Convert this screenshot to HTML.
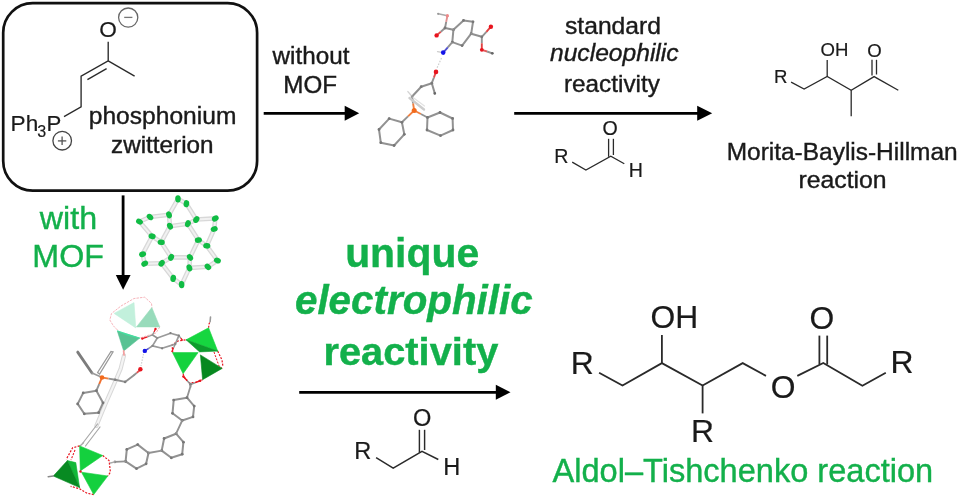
<!DOCTYPE html>
<html><head><meta charset="utf-8"><style>
html,body{margin:0;padding:0;background:#fff;width:958px;height:499px;overflow:hidden}
svg{display:block}
text{font-family:"Liberation Sans",sans-serif}
</style></head><body>
<svg width="958" height="499" viewBox="0 0 958 499" style="will-change:transform;filter:blur(0.3px)">
<rect x="3.2" y="3.2" width="253.9" height="187.4" rx="29.5" ry="29.5" fill="none" stroke="#111" stroke-width="2.7"/>
<line x1="263.7" y1="113.3" x2="345.7" y2="113.3" stroke="#000" stroke-width="2.8"/><polygon points="344.7,105.8 359.2,113.3 344.7,120.8" fill="#000"/>
<line x1="514.2" y1="113.3" x2="698.2" y2="113.3" stroke="#000" stroke-width="2.8"/><polygon points="697.2,105.8 712.2,113.3 697.2,120.8" fill="#000"/>
<line x1="299.2" y1="392.3" x2="496.8" y2="392.3" stroke="#000" stroke-width="2.8"/><polygon points="495.8,384.8 510.5,392.3 495.8,399.8" fill="#000"/>
<line x1="123.1" y1="195.4" x2="123.1" y2="276" stroke="#000" stroke-width="2.8"/>
<polygon points="115.8,274.9 123.1,289.8 130.6,274.9" fill="#000"/>
<g stroke="#2a2a2a" stroke-width="1.35" fill="none" stroke-linecap="butt">
<polyline points="108.2,41.7 108.2,60.9 81.1,76.2 81.1,106.9 64,116.6" />
<line x1="108.2" y1="60.9" x2="134.6" y2="76.1" />
<line x1="87.4" y1="79.7" x2="106.6" y2="68.7" />
</g>
<circle cx="128.2" cy="17.6" r="9.6" fill="none" stroke="#666" stroke-width="1.3"/>
<line x1="124.2" y1="17.4" x2="132.4" y2="17.4" stroke="#777" stroke-width="1.3"/>
<circle cx="62.2" cy="140.7" r="9.3" fill="none" stroke="#444" stroke-width="1.3"/>
<line x1="57.9" y1="140.9" x2="66.3" y2="140.9" stroke="#555" stroke-width="1.3"/>
<line x1="62.1" y1="136.6" x2="62.1" y2="145.1" stroke="#555" stroke-width="1.3"/>
<g stroke="#2a2a2a" stroke-width="1.3" fill="none">
<polyline points="791.1,82.1 804.1,89.1 827.2,76.5 851.2,90.2 874.1,76.6 898.3,90.2" />
<line x1="827.2" y1="76.5" x2="827.2" y2="60.1" />
<line x1="851.2" y1="90.2" x2="851.2" y2="116.2" />
<line x1="872.0" y1="59.8" x2="872.0" y2="75.5" />
<line x1="876.5" y1="59.8" x2="876.5" y2="74.5" />
</g>
<g stroke="#2a2a2a" stroke-width="1.3" fill="none">
<polyline points="572.2,162.1 585.9,170.1 610.8,156.3 624.3,163.7" />
<line x1="608.6" y1="138.8" x2="608.6" y2="156.8" />
<line x1="613.4" y1="138.8" x2="613.4" y2="155.0" />
</g>
<g stroke="#2a2a2a" stroke-width="1.45" fill="none">
<polyline points="376.1,457.7 393.2,468.2 422.0,451.4 438.3,459.5" />
<line x1="419.4" y1="429.8" x2="419.4" y2="452.5" />
<line x1="424.6" y1="429.8" x2="424.6" y2="450.0" />
</g>
<g stroke="#2a2a2a" stroke-width="1.8" fill="none">
<polyline points="599.1,372.7 622.5,385.5 661.9,363.1 702.6,385.5 742.7,363.1 766,375.9" />
<line x1="661.9" y1="363.1" x2="661.9" y2="334.9" />
<line x1="702.6" y1="385.5" x2="702.6" y2="413.4" />
<polyline points="797.3,375.9 823.3,362.9 862.4,385.8 885.8,372.8" />
<line x1="819.4" y1="335.6" x2="819.4" y2="364.5" />
<line x1="827.2" y1="335.6" x2="827.2" y2="364.5" />
</g>
<line x1="453.4" y1="29.8" x2="463.5" y2="20.4" stroke="#929292" stroke-width="2.0" stroke-linecap="round" opacity="1"/>
<line x1="463.5" y1="20.4" x2="473.0" y2="21.8" stroke="#929292" stroke-width="2.0" stroke-linecap="round" opacity="1"/>
<line x1="473.0" y1="21.8" x2="471.2" y2="33.7" stroke="#929292" stroke-width="2.0" stroke-linecap="round" opacity="1"/>
<line x1="471.2" y1="33.7" x2="462.1" y2="45.6" stroke="#929292" stroke-width="2.0" stroke-linecap="round" opacity="1"/>
<line x1="462.1" y1="45.6" x2="452.3" y2="42.1" stroke="#929292" stroke-width="2.0" stroke-linecap="round" opacity="1"/>
<line x1="452.3" y1="42.1" x2="453.4" y2="29.8" stroke="#929292" stroke-width="2.0" stroke-linecap="round" opacity="1"/>
<circle cx="453.4" cy="29.8" r="1.4" fill="#777777" opacity="1"/>
<circle cx="463.5" cy="20.4" r="1.4" fill="#777777" opacity="1"/>
<circle cx="473.0" cy="21.8" r="1.4" fill="#777777" opacity="1"/>
<circle cx="471.2" cy="33.7" r="1.4" fill="#777777" opacity="1"/>
<circle cx="462.1" cy="45.6" r="1.4" fill="#777777" opacity="1"/>
<circle cx="452.3" cy="42.1" r="1.4" fill="#777777" opacity="1"/>
<line x1="453.4" y1="29.8" x2="445.0" y2="28.0" stroke="#909090" stroke-width="2.0" stroke-linecap="round" opacity="1"/>
<line x1="445.0" y1="28.0" x2="446.2" y2="21.9" stroke="#929292" stroke-width="1.9" stroke-linecap="butt" opacity="1"/>
<line x1="446.2" y1="21.9" x2="447.4" y2="15.7" stroke="#e09090" stroke-width="1.9" stroke-linecap="butt" opacity="1"/>
<line x1="447.4" y1="15.7" x2="438.2" y2="13.8" stroke="#aaa" stroke-width="1.5" stroke-linecap="round" opacity="1"/>
<line x1="445.0" y1="28.0" x2="440.8" y2="31.7" stroke="#929292" stroke-width="1.9" stroke-linecap="butt" opacity="1"/>
<line x1="440.8" y1="31.7" x2="436.6" y2="35.4" stroke="#e05050" stroke-width="1.9" stroke-linecap="butt" opacity="1"/>
<line x1="471.2" y1="33.7" x2="481.8" y2="36.8" stroke="#909090" stroke-width="2.0" stroke-linecap="round" opacity="1"/>
<line x1="481.8" y1="36.8" x2="486.4" y2="31.8" stroke="#929292" stroke-width="1.9" stroke-linecap="butt" opacity="1"/>
<line x1="486.4" y1="31.8" x2="490.9" y2="26.7" stroke="#e04040" stroke-width="1.9" stroke-linecap="butt" opacity="1"/>
<line x1="481.8" y1="36.8" x2="481.8" y2="43.3" stroke="#929292" stroke-width="1.9" stroke-linecap="butt" opacity="1"/>
<line x1="481.8" y1="43.3" x2="481.8" y2="49.8" stroke="#e04040" stroke-width="1.9" stroke-linecap="butt" opacity="1"/>
<line x1="481.8" y1="49.8" x2="487.1" y2="51.5" stroke="#e06060" stroke-width="1.9" stroke-linecap="butt" opacity="1"/>
<line x1="487.1" y1="51.5" x2="492.3" y2="53.3" stroke="#929292" stroke-width="1.9" stroke-linecap="butt" opacity="1"/>
<circle cx="445.0" cy="28.0" r="1.4" fill="#7a7a7a" opacity="1"/>
<circle cx="481.8" cy="36.8" r="1.4" fill="#7a7a7a" opacity="1"/>
<circle cx="438.2" cy="13.8" r="1.1" fill="#999" opacity="1"/>
<circle cx="492.3" cy="53.3" r="1.4" fill="#666" opacity="1"/>
<circle cx="436.6" cy="35.4" r="2.2" fill="#e8141e" opacity="1"/>
<circle cx="490.9" cy="26.7" r="2.2" fill="#e8141e" opacity="1"/>
<circle cx="481.8" cy="49.8" r="1.9" fill="#e8141e" opacity="1"/>
<circle cx="447.4" cy="15.7" r="1.6" fill="#e88" opacity="1"/>
<line x1="452.3" y1="42.1" x2="447.8" y2="47.4" stroke="#929292" stroke-width="1.9" stroke-linecap="butt" opacity="1"/>
<line x1="447.8" y1="47.4" x2="443.2" y2="52.6" stroke="#5050d0" stroke-width="1.9" stroke-linecap="butt" opacity="1"/>
<line x1="443.2" y1="52.6" x2="437.5" y2="51.6" stroke="#ccc" stroke-width="1.2" stroke-linecap="round" opacity="1"/>
<line x1="441.5" y1="58" x2="436.5" y2="69" stroke="#cfcfcf" stroke-width="1.2" stroke-dasharray="1.6 1.4"/>
<circle cx="443.2" cy="52.6" r="2.3" fill="#1414e8" opacity="1"/>
<line x1="436.0" y1="71.9" x2="433.9" y2="77.6" stroke="#e05050" stroke-width="1.9" stroke-linecap="butt" opacity="1"/>
<line x1="433.9" y1="77.6" x2="431.8" y2="83.2" stroke="#929292" stroke-width="1.9" stroke-linecap="butt" opacity="1"/>
<line x1="431.8" y1="83.2" x2="434.8" y2="93.4" stroke="#909090" stroke-width="2.0" stroke-linecap="round" opacity="1"/>
<line x1="431.8" y1="83.2" x2="421.2" y2="86.7" stroke="#909090" stroke-width="2.0" stroke-linecap="round" opacity="1"/>
<line x1="421.2" y1="86.7" x2="412.1" y2="96.5" stroke="#909090" stroke-width="2.0" stroke-linecap="round" opacity="1"/>
<line x1="412.1" y1="96.5" x2="407.9" y2="91.6" stroke="#d4d4d4" stroke-width="1.4" stroke-linecap="round" opacity="1"/>
<line x1="412.1" y1="96.5" x2="413.1" y2="103.5" stroke="#929292" stroke-width="1.9" stroke-linecap="butt" opacity="1"/>
<line x1="413.1" y1="103.5" x2="414.2" y2="110.5" stroke="#f08040" stroke-width="1.9" stroke-linecap="butt" opacity="1"/>
<line x1="409.5" y1="98.0" x2="424.0" y2="109.5" stroke="#cdcdcd" stroke-width="2.4" stroke-linecap="round" opacity="1"/>
<line x1="411.0" y1="96.0" x2="424.5" y2="106.0" stroke="#e2e2e2" stroke-width="1.2" stroke-linecap="round" opacity="1"/>
<circle cx="436.0" cy="71.9" r="2.3" fill="#e8141e" opacity="1"/>
<circle cx="431.8" cy="83.2" r="1.4" fill="#7a7a7a" opacity="1"/>
<circle cx="434.8" cy="93.4" r="1.3" fill="#666" opacity="1"/>
<circle cx="421.2" cy="86.7" r="1.4" fill="#7a7a7a" opacity="1"/>
<circle cx="412.1" cy="96.5" r="1.2" fill="#999" opacity="1"/>
<line x1="414.2" y1="110.5" x2="408.0" y2="116.4" stroke="#f08040" stroke-width="1.9" stroke-linecap="butt" opacity="1"/>
<line x1="408.0" y1="116.4" x2="401.9" y2="122.3" stroke="#929292" stroke-width="1.9" stroke-linecap="butt" opacity="1"/>
<line x1="414.2" y1="110.5" x2="420.9" y2="114.0" stroke="#f08040" stroke-width="1.9" stroke-linecap="butt" opacity="1"/>
<line x1="420.9" y1="114.0" x2="427.5" y2="117.5" stroke="#929292" stroke-width="1.9" stroke-linecap="butt" opacity="1"/>
<line x1="401.9" y1="122.3" x2="389.2" y2="118.6" stroke="#929292" stroke-width="2.0" stroke-linecap="round" opacity="1"/>
<line x1="389.2" y1="118.6" x2="379.0" y2="129.5" stroke="#929292" stroke-width="2.0" stroke-linecap="round" opacity="1"/>
<line x1="379.0" y1="129.5" x2="380.8" y2="142.7" stroke="#929292" stroke-width="2.0" stroke-linecap="round" opacity="1"/>
<line x1="380.8" y1="142.7" x2="394.1" y2="145.5" stroke="#929292" stroke-width="2.0" stroke-linecap="round" opacity="1"/>
<line x1="394.1" y1="145.5" x2="404.3" y2="134.3" stroke="#929292" stroke-width="2.0" stroke-linecap="round" opacity="1"/>
<line x1="404.3" y1="134.3" x2="401.9" y2="122.3" stroke="#929292" stroke-width="2.0" stroke-linecap="round" opacity="1"/>
<circle cx="401.9" cy="122.3" r="1.4" fill="#777777" opacity="1"/>
<circle cx="389.2" cy="118.6" r="1.4" fill="#777777" opacity="1"/>
<circle cx="379.0" cy="129.5" r="1.4" fill="#777777" opacity="1"/>
<circle cx="380.8" cy="142.7" r="1.4" fill="#777777" opacity="1"/>
<circle cx="394.1" cy="145.5" r="1.4" fill="#777777" opacity="1"/>
<circle cx="404.3" cy="134.3" r="1.4" fill="#777777" opacity="1"/>
<line x1="427.5" y1="117.5" x2="440.0" y2="112.5" stroke="#929292" stroke-width="2.0" stroke-linecap="round" opacity="1"/>
<line x1="440.0" y1="112.5" x2="452.6" y2="118.5" stroke="#929292" stroke-width="2.0" stroke-linecap="round" opacity="1"/>
<line x1="452.6" y1="118.5" x2="453.0" y2="130.0" stroke="#929292" stroke-width="2.0" stroke-linecap="round" opacity="1"/>
<line x1="453.0" y1="130.0" x2="440.5" y2="135.6" stroke="#929292" stroke-width="2.0" stroke-linecap="round" opacity="1"/>
<line x1="440.5" y1="135.6" x2="427.0" y2="130.0" stroke="#929292" stroke-width="2.0" stroke-linecap="round" opacity="1"/>
<line x1="427.0" y1="130.0" x2="427.5" y2="117.5" stroke="#929292" stroke-width="2.0" stroke-linecap="round" opacity="1"/>
<circle cx="427.5" cy="117.5" r="1.4" fill="#777777" opacity="1"/>
<circle cx="440.0" cy="112.5" r="1.4" fill="#777777" opacity="1"/>
<circle cx="452.6" cy="118.5" r="1.4" fill="#777777" opacity="1"/>
<circle cx="453.0" cy="130.0" r="1.4" fill="#777777" opacity="1"/>
<circle cx="440.5" cy="135.6" r="1.4" fill="#777777" opacity="1"/>
<circle cx="427.0" cy="130.0" r="1.4" fill="#777777" opacity="1"/>
<circle cx="414.2" cy="110.5" r="2.5" fill="#f26a1c" opacity="1"/>
<line x1="198.4" y1="240.1" x2="190.0" y2="257.4" stroke="#d8d8d8" stroke-width="4.6" stroke-linecap="round"/>
<line x1="190.0" y1="257.4" x2="171.1" y2="257.4" stroke="#d8d8d8" stroke-width="4.6" stroke-linecap="round"/>
<line x1="171.1" y1="257.4" x2="161.2" y2="242.2" stroke="#d8d8d8" stroke-width="4.6" stroke-linecap="round"/>
<line x1="161.2" y1="242.2" x2="170.0" y2="226.2" stroke="#d8d8d8" stroke-width="4.6" stroke-linecap="round"/>
<line x1="170.0" y1="226.2" x2="187.9" y2="223.7" stroke="#d8d8d8" stroke-width="4.6" stroke-linecap="round"/>
<line x1="187.9" y1="223.7" x2="198.4" y2="240.1" stroke="#d8d8d8" stroke-width="4.6" stroke-linecap="round"/>
<line x1="198.4" y1="240.1" x2="206.8" y2="245.8" stroke="#d8d8d8" stroke-width="4.6" stroke-linecap="round"/>
<line x1="190.0" y1="257.4" x2="189.4" y2="267.9" stroke="#d8d8d8" stroke-width="4.6" stroke-linecap="round"/>
<line x1="171.1" y1="257.4" x2="161.6" y2="263.3" stroke="#d8d8d8" stroke-width="4.6" stroke-linecap="round"/>
<line x1="161.2" y1="242.2" x2="152.1" y2="236.3" stroke="#d8d8d8" stroke-width="4.6" stroke-linecap="round"/>
<line x1="170.0" y1="226.2" x2="169.0" y2="214.8" stroke="#d8d8d8" stroke-width="4.6" stroke-linecap="round"/>
<line x1="187.9" y1="223.7" x2="196.3" y2="219.5" stroke="#d8d8d8" stroke-width="4.6" stroke-linecap="round"/>
<line x1="196.3" y1="219.5" x2="215.3" y2="218.4" stroke="#d8d8d8" stroke-width="4.6" stroke-linecap="round"/>
<line x1="215.3" y1="218.4" x2="214.2" y2="229.0" stroke="#d8d8d8" stroke-width="4.6" stroke-linecap="round"/>
<line x1="214.2" y1="229.0" x2="206.8" y2="245.8" stroke="#d8d8d8" stroke-width="4.6" stroke-linecap="round"/>
<line x1="206.8" y1="245.8" x2="217.4" y2="260.5" stroke="#d8d8d8" stroke-width="4.6" stroke-linecap="round"/>
<line x1="217.4" y1="260.5" x2="207.9" y2="266.8" stroke="#d8d8d8" stroke-width="4.6" stroke-linecap="round"/>
<line x1="207.9" y1="266.8" x2="189.4" y2="267.9" stroke="#d8d8d8" stroke-width="4.6" stroke-linecap="round"/>
<line x1="189.4" y1="267.9" x2="181.6" y2="284.7" stroke="#d8d8d8" stroke-width="4.6" stroke-linecap="round"/>
<line x1="181.6" y1="284.7" x2="173.2" y2="278.4" stroke="#d8d8d8" stroke-width="4.6" stroke-linecap="round"/>
<line x1="173.2" y1="278.4" x2="161.6" y2="263.3" stroke="#d8d8d8" stroke-width="4.6" stroke-linecap="round"/>
<line x1="161.6" y1="263.3" x2="144.7" y2="263.7" stroke="#d8d8d8" stroke-width="4.6" stroke-linecap="round"/>
<line x1="144.7" y1="263.7" x2="142.6" y2="254.2" stroke="#d8d8d8" stroke-width="4.6" stroke-linecap="round"/>
<line x1="142.6" y1="254.2" x2="152.1" y2="236.3" stroke="#d8d8d8" stroke-width="4.6" stroke-linecap="round"/>
<line x1="152.1" y1="236.3" x2="139.5" y2="221.6" stroke="#d8d8d8" stroke-width="4.6" stroke-linecap="round"/>
<line x1="139.5" y1="221.6" x2="150.0" y2="217.0" stroke="#d8d8d8" stroke-width="4.6" stroke-linecap="round"/>
<line x1="150.0" y1="217.0" x2="169.0" y2="214.8" stroke="#d8d8d8" stroke-width="4.6" stroke-linecap="round"/>
<line x1="169.0" y1="214.8" x2="178.0" y2="198.8" stroke="#d8d8d8" stroke-width="4.6" stroke-linecap="round"/>
<line x1="178.0" y1="198.8" x2="186.4" y2="203.7" stroke="#d8d8d8" stroke-width="4.6" stroke-linecap="round"/>
<line x1="186.4" y1="203.7" x2="196.3" y2="219.5" stroke="#d8d8d8" stroke-width="4.6" stroke-linecap="round"/>
<line x1="198.4" y1="240.1" x2="190.0" y2="257.4" stroke="#f1f1f1" stroke-width="2.0"/>
<line x1="190.0" y1="257.4" x2="171.1" y2="257.4" stroke="#f1f1f1" stroke-width="2.0"/>
<line x1="171.1" y1="257.4" x2="161.2" y2="242.2" stroke="#f1f1f1" stroke-width="2.0"/>
<line x1="161.2" y1="242.2" x2="170.0" y2="226.2" stroke="#f1f1f1" stroke-width="2.0"/>
<line x1="170.0" y1="226.2" x2="187.9" y2="223.7" stroke="#f1f1f1" stroke-width="2.0"/>
<line x1="187.9" y1="223.7" x2="198.4" y2="240.1" stroke="#f1f1f1" stroke-width="2.0"/>
<line x1="198.4" y1="240.1" x2="206.8" y2="245.8" stroke="#f1f1f1" stroke-width="2.0"/>
<line x1="190.0" y1="257.4" x2="189.4" y2="267.9" stroke="#f1f1f1" stroke-width="2.0"/>
<line x1="171.1" y1="257.4" x2="161.6" y2="263.3" stroke="#f1f1f1" stroke-width="2.0"/>
<line x1="161.2" y1="242.2" x2="152.1" y2="236.3" stroke="#f1f1f1" stroke-width="2.0"/>
<line x1="170.0" y1="226.2" x2="169.0" y2="214.8" stroke="#f1f1f1" stroke-width="2.0"/>
<line x1="187.9" y1="223.7" x2="196.3" y2="219.5" stroke="#f1f1f1" stroke-width="2.0"/>
<line x1="196.3" y1="219.5" x2="215.3" y2="218.4" stroke="#f1f1f1" stroke-width="2.0"/>
<line x1="215.3" y1="218.4" x2="214.2" y2="229.0" stroke="#f1f1f1" stroke-width="2.0"/>
<line x1="214.2" y1="229.0" x2="206.8" y2="245.8" stroke="#f1f1f1" stroke-width="2.0"/>
<line x1="206.8" y1="245.8" x2="217.4" y2="260.5" stroke="#f1f1f1" stroke-width="2.0"/>
<line x1="217.4" y1="260.5" x2="207.9" y2="266.8" stroke="#f1f1f1" stroke-width="2.0"/>
<line x1="207.9" y1="266.8" x2="189.4" y2="267.9" stroke="#f1f1f1" stroke-width="2.0"/>
<line x1="189.4" y1="267.9" x2="181.6" y2="284.7" stroke="#f1f1f1" stroke-width="2.0"/>
<line x1="181.6" y1="284.7" x2="173.2" y2="278.4" stroke="#f1f1f1" stroke-width="2.0"/>
<line x1="173.2" y1="278.4" x2="161.6" y2="263.3" stroke="#f1f1f1" stroke-width="2.0"/>
<line x1="161.6" y1="263.3" x2="144.7" y2="263.7" stroke="#f1f1f1" stroke-width="2.0"/>
<line x1="144.7" y1="263.7" x2="142.6" y2="254.2" stroke="#f1f1f1" stroke-width="2.0"/>
<line x1="142.6" y1="254.2" x2="152.1" y2="236.3" stroke="#f1f1f1" stroke-width="2.0"/>
<line x1="152.1" y1="236.3" x2="139.5" y2="221.6" stroke="#f1f1f1" stroke-width="2.0"/>
<line x1="139.5" y1="221.6" x2="150.0" y2="217.0" stroke="#f1f1f1" stroke-width="2.0"/>
<line x1="150.0" y1="217.0" x2="169.0" y2="214.8" stroke="#f1f1f1" stroke-width="2.0"/>
<line x1="169.0" y1="214.8" x2="178.0" y2="198.8" stroke="#f1f1f1" stroke-width="2.0"/>
<line x1="178.0" y1="198.8" x2="186.4" y2="203.7" stroke="#f1f1f1" stroke-width="2.0"/>
<line x1="186.4" y1="203.7" x2="196.3" y2="219.5" stroke="#f1f1f1" stroke-width="2.0"/>
<ellipse cx="178.0" cy="198.8" rx="3.6" ry="2.8" transform="rotate(-92 178.0 198.8)" fill="#10bc44"/>
<ellipse cx="186.4" cy="203.7" rx="3.6" ry="2.8" transform="rotate(-80 186.4 203.7)" fill="#10bc44"/>
<ellipse cx="150.0" cy="217.0" rx="3.6" ry="2.8" transform="rotate(-138 150.0 217.0)" fill="#10bc44"/>
<ellipse cx="139.5" cy="221.6" rx="3.6" ry="2.8" transform="rotate(-152 139.5 221.6)" fill="#10bc44"/>
<ellipse cx="169.0" cy="214.8" rx="3.6" ry="2.8" transform="rotate(-110 169.0 214.8)" fill="#10bc44"/>
<ellipse cx="170.0" cy="226.2" rx="3.6" ry="2.8" transform="rotate(-119 170.0 226.2)" fill="#10bc44"/>
<ellipse cx="196.3" cy="219.5" rx="3.6" ry="2.8" transform="rotate(-54 196.3 219.5)" fill="#10bc44"/>
<ellipse cx="187.9" cy="223.7" rx="3.6" ry="2.8" transform="rotate(-66 187.9 223.7)" fill="#10bc44"/>
<ellipse cx="215.3" cy="218.4" rx="3.6" ry="2.8" transform="rotate(-34 215.3 218.4)" fill="#10bc44"/>
<ellipse cx="214.2" cy="229.0" rx="3.6" ry="2.8" transform="rotate(-22 214.2 229.0)" fill="#10bc44"/>
<ellipse cx="152.1" cy="236.3" rx="3.6" ry="2.8" transform="rotate(-166 152.1 236.3)" fill="#10bc44"/>
<ellipse cx="161.2" cy="242.2" rx="3.6" ry="2.8" transform="rotate(-177 161.2 242.2)" fill="#10bc44"/>
<ellipse cx="198.4" cy="240.1" rx="3.6" ry="2.8" transform="rotate(-9 198.4 240.1)" fill="#10bc44"/>
<ellipse cx="206.8" cy="245.8" rx="3.6" ry="2.8" transform="rotate(6 206.8 245.8)" fill="#10bc44"/>
<ellipse cx="142.6" cy="254.2" rx="3.6" ry="2.8" transform="rotate(163 142.6 254.2)" fill="#10bc44"/>
<ellipse cx="144.7" cy="263.7" rx="3.6" ry="2.8" transform="rotate(149 144.7 263.7)" fill="#10bc44"/>
<ellipse cx="161.6" cy="263.3" rx="3.6" ry="2.8" transform="rotate(131 161.6 263.3)" fill="#10bc44"/>
<ellipse cx="171.1" cy="257.4" rx="3.6" ry="2.8" transform="rotate(119 171.1 257.4)" fill="#10bc44"/>
<ellipse cx="190.0" cy="257.4" rx="3.6" ry="2.8" transform="rotate(53 190.0 257.4)" fill="#10bc44"/>
<ellipse cx="189.4" cy="267.9" rx="3.6" ry="2.8" transform="rotate(68 189.4 267.9)" fill="#10bc44"/>
<ellipse cx="217.4" cy="260.5" rx="3.6" ry="2.8" transform="rotate(25 217.4 260.5)" fill="#10bc44"/>
<ellipse cx="207.9" cy="266.8" rx="3.6" ry="2.8" transform="rotate(40 207.9 266.8)" fill="#10bc44"/>
<ellipse cx="173.2" cy="278.4" rx="3.6" ry="2.8" transform="rotate(100 173.2 278.4)" fill="#10bc44"/>
<ellipse cx="181.6" cy="284.7" rx="3.6" ry="2.8" transform="rotate(87 181.6 284.7)" fill="#10bc44"/>
<polyline points="124,355.4 120.7,368.6 114.1,384.1 106.4,401.7 100.9,414.9 96.4,425.9" fill="none" stroke="#d8d8d8" stroke-width="4.2" stroke-linecap="round" stroke-linejoin="round"/>
<polyline points="124,355.4 120.7,368.6 114.1,384.1 106.4,401.7 100.9,414.9 96.4,425.9" fill="none" stroke="#f4f4f4" stroke-width="2.2" stroke-linecap="round" stroke-linejoin="round"/>
<line x1="97.5" y1="424.0" x2="82.5" y2="443.5" stroke="#a8a8a8" stroke-width="1.2" stroke-linecap="round" opacity="1"/>
<line x1="100.0" y1="427.0" x2="85.5" y2="446.0" stroke="#a8a8a8" stroke-width="1.2" stroke-linecap="round" opacity="1"/>
<line x1="83.5" y1="442.7" x2="80.0" y2="446.0" stroke="#aaa" stroke-width="1.4" stroke-linecap="round" opacity="1"/>
<polyline points="117.5,330.0 113.5,326.0 109.8,320.0 111.5,313.5 121.0,306.0 134.0,298.5 144.8,297.2 151.5,303.5 152.0,307.6" fill="none" stroke="#f6b4ba" stroke-width="1.0" stroke-dasharray="2.5 1.0" opacity="1" stroke-linejoin="round"/>
<polyline points="159.8,326.9 156.0,333.0 146.0,336.0 139.7,338.1" fill="none" stroke="#f6b4ba" stroke-width="1.0" stroke-dasharray="2.5 1.0" opacity="1" stroke-linejoin="round"/>
<polygon points="114.1,313.4 134.0,302.6 135.8,327.9" fill="#c2f0dc" opacity="1" stroke="#c2f0dc" stroke-width="0.6" stroke-linejoin="round"/>
<polygon points="136.5,326.9 151.8,307.6 159.8,326.9" fill="#98dbbb" opacity="1" stroke="#98dbbb" stroke-width="0.6" stroke-linejoin="round"/>
<polygon points="117.3,330.9 139.7,338.1 123.7,351.0" fill="#58c293" opacity="1" stroke="#58c293" stroke-width="0.6" stroke-linejoin="round"/>
<polygon points="117.3,330.9 139.7,338.1 127.0,335.0" fill="#40e0a0" opacity="1" stroke="#40e0a0" stroke-width="0.6" stroke-linejoin="round"/>
<line x1="123.7" y1="351.0" x2="124.0" y2="355.0" stroke="#f2a0a0" stroke-width="1.8" stroke-linecap="round" opacity="1"/>
<polyline points="172.8,352.5 172.0,345.0 178.0,341.0 186.1,339.8" fill="none" stroke="#e8141e" stroke-width="1.2" stroke-dasharray="2 1.4" opacity="1" stroke-linejoin="round"/>
<polyline points="208.6,327.8 209.0,324.0 210.1,321.8" fill="none" stroke="#e8141e" stroke-width="1.2" stroke-dasharray="2 1.4" opacity="1" stroke-linejoin="round"/>
<polyline points="217.7,351.1 222.0,360.0 222.9,366.2" fill="none" stroke="#e8141e" stroke-width="1.2" stroke-dasharray="2 1.4" opacity="1" stroke-linejoin="round"/>
<polyline points="214.0,352.0 219.0,366.0 222.2,368.4" fill="none" stroke="#e8141e" stroke-width="1.0" stroke-dasharray="2 1.4" opacity="1" stroke-linejoin="round"/>
<polyline points="183.1,373.7 184.0,377.0 189.1,382.7 195.0,382.5 202.6,379.7" fill="none" stroke="#e8141e" stroke-width="1.2" stroke-dasharray="2 1.4" opacity="1" stroke-linejoin="round"/>
<polygon points="186.1,339.8 208.6,327.8 217.7,351.1" fill="#16d640" opacity="1" stroke="#16d640" stroke-width="0.6" stroke-linejoin="round"/>
<polygon points="186.1,339.8 199.6,351.9 217.7,351.1" fill="#0c9c2c" opacity="1" stroke="#0c9c2c" stroke-width="0.6" stroke-linejoin="round"/>
<polygon points="172.5,352.6 198.1,352.6 183.1,373.7" fill="#14d23e" opacity="1" stroke="#14d23e" stroke-width="0.6" stroke-linejoin="round"/>
<polygon points="200.4,354.9 222.2,368.4 202.6,379.7" fill="#07881f" opacity="1" stroke="#07881f" stroke-width="0.6" stroke-linejoin="round"/>
<line x1="210.1" y1="321.8" x2="210.5" y2="317.0" stroke="#999" stroke-width="1.6" stroke-linecap="round" opacity="1"/>
<line x1="189.8" y1="383.5" x2="190.6" y2="387.0" stroke="#999" stroke-width="1.6" stroke-linecap="round" opacity="1"/>
<line x1="190.6" y1="384.5" x2="187.0" y2="380.5" stroke="#929292" stroke-width="1.5" stroke-linecap="butt" opacity="1"/>
<line x1="187.0" y1="380.5" x2="183.4" y2="376.5" stroke="#e8141e" stroke-width="1.5" stroke-linecap="butt" opacity="1"/>
<line x1="190.6" y1="384.5" x2="195.4" y2="382.6" stroke="#929292" stroke-width="1.5" stroke-linecap="butt" opacity="1"/>
<line x1="195.4" y1="382.6" x2="200.2" y2="380.8" stroke="#e8141e" stroke-width="1.5" stroke-linecap="butt" opacity="1"/>
<circle cx="190.6" cy="384.5" r="1.4" fill="#808080" opacity="1"/>
<circle cx="183.4" cy="376.5" r="1.2" fill="#e8141e" opacity="1"/>
<circle cx="200.2" cy="380.8" r="1.2" fill="#e8141e" opacity="1"/>
<line x1="152.5" y1="345.9" x2="157.3" y2="338.0" stroke="#9a9a9a" stroke-width="1.7" stroke-linecap="round" opacity="1"/>
<line x1="157.3" y1="338.0" x2="170.5" y2="333.2" stroke="#9a9a9a" stroke-width="1.7" stroke-linecap="round" opacity="1"/>
<line x1="170.5" y1="333.2" x2="178.9" y2="335.6" stroke="#9a9a9a" stroke-width="1.7" stroke-linecap="round" opacity="1"/>
<line x1="178.9" y1="335.6" x2="175.3" y2="344.1" stroke="#9a9a9a" stroke-width="1.7" stroke-linecap="round" opacity="1"/>
<line x1="175.3" y1="344.1" x2="162.1" y2="348.3" stroke="#9a9a9a" stroke-width="1.7" stroke-linecap="round" opacity="1"/>
<line x1="162.1" y1="348.3" x2="152.5" y2="345.9" stroke="#9a9a9a" stroke-width="1.7" stroke-linecap="round" opacity="1"/>
<circle cx="152.5" cy="345.9" r="1.1" fill="#808080" opacity="1"/>
<circle cx="157.3" cy="338.0" r="1.1" fill="#808080" opacity="1"/>
<circle cx="170.5" cy="333.2" r="1.1" fill="#808080" opacity="1"/>
<circle cx="178.9" cy="335.6" r="1.1" fill="#808080" opacity="1"/>
<circle cx="175.3" cy="344.1" r="1.1" fill="#808080" opacity="1"/>
<circle cx="162.1" cy="348.3" r="1.1" fill="#808080" opacity="1"/>
<line x1="157.3" y1="338.0" x2="152.5" y2="335.0" stroke="#929292" stroke-width="1.6" stroke-linecap="round" opacity="1"/>
<line x1="152.5" y1="335.0" x2="154.0" y2="332.0" stroke="#929292" stroke-width="1.3" stroke-linecap="butt" opacity="1"/>
<line x1="154.0" y1="332.0" x2="155.5" y2="329.0" stroke="#e8141e" stroke-width="1.3" stroke-linecap="butt" opacity="1"/>
<line x1="152.5" y1="335.0" x2="147.4" y2="336.8" stroke="#929292" stroke-width="1.3" stroke-linecap="butt" opacity="1"/>
<line x1="147.4" y1="336.8" x2="142.3" y2="338.6" stroke="#e8141e" stroke-width="1.3" stroke-linecap="butt" opacity="1"/>
<line x1="178.9" y1="335.6" x2="180.8" y2="338.1" stroke="#929292" stroke-width="1.3" stroke-linecap="butt" opacity="1"/>
<line x1="180.8" y1="338.1" x2="182.6" y2="340.5" stroke="#e8141e" stroke-width="1.3" stroke-linecap="butt" opacity="1"/>
<line x1="175.3" y1="344.1" x2="173.5" y2="348.0" stroke="#929292" stroke-width="1.3" stroke-linecap="butt" opacity="1"/>
<line x1="173.5" y1="348.0" x2="171.7" y2="351.9" stroke="#e8141e" stroke-width="1.3" stroke-linecap="butt" opacity="1"/>
<circle cx="155.5" cy="329.0" r="1.2" fill="#e8141e" opacity="1"/>
<circle cx="142.3" cy="338.6" r="1.2" fill="#e8141e" opacity="1"/>
<line x1="152.5" y1="345.9" x2="148.7" y2="348.4" stroke="#929292" stroke-width="1.7" stroke-linecap="butt" opacity="1"/>
<line x1="148.7" y1="348.4" x2="144.8" y2="350.9" stroke="#5050d0" stroke-width="1.7" stroke-linecap="butt" opacity="1"/>
<line x1="143.5" y1="354" x2="141" y2="366" stroke="#d0d0d0" stroke-width="1.2" stroke-dasharray="1.5 1.3"/>
<circle cx="144.8" cy="350.9" r="2.2" fill="#1414e8" opacity="1"/>
<line x1="102.0" y1="377.5" x2="108.6" y2="378.6" stroke="#f08040" stroke-width="1.9" stroke-linecap="butt" opacity="1"/>
<line x1="108.6" y1="378.6" x2="115.2" y2="379.7" stroke="#929292" stroke-width="1.9" stroke-linecap="butt" opacity="1"/>
<line x1="115.2" y1="379.7" x2="125.1" y2="381.9" stroke="#929292" stroke-width="1.9" stroke-linecap="round" opacity="1"/>
<line x1="125.1" y1="381.9" x2="133.9" y2="375.3" stroke="#929292" stroke-width="1.9" stroke-linecap="round" opacity="1"/>
<line x1="133.9" y1="375.3" x2="136.7" y2="372.9" stroke="#929292" stroke-width="1.9" stroke-linecap="butt" opacity="1"/>
<line x1="136.7" y1="372.9" x2="139.5" y2="370.5" stroke="#e05050" stroke-width="1.9" stroke-linecap="butt" opacity="1"/>
<circle cx="125.1" cy="381.9" r="1.3" fill="#808080" opacity="1"/>
<circle cx="115.2" cy="379.7" r="1.2" fill="#808080" opacity="1"/>
<circle cx="140.4" cy="369.3" r="2.2" fill="#e8141e" opacity="1"/>
<line x1="77.7" y1="352.1" x2="92.0" y2="373.0" stroke="#7c7c7c" stroke-width="2.8" stroke-linecap="round" opacity="1"/>
<line x1="92.0" y1="373.0" x2="100.0" y2="376.5" stroke="#999" stroke-width="1.6" stroke-linecap="round" opacity="1"/>
<polygon points="113,352 111,351.5 97.6,372.5 99.6,374" fill="none" stroke="#9a9a9a" stroke-width="1.3"/>
<line x1="102.0" y1="377.5" x2="99.2" y2="384.1" stroke="#f07030" stroke-width="1.9" stroke-linecap="butt" opacity="1"/>
<line x1="99.2" y1="384.1" x2="96.4" y2="390.7" stroke="#929292" stroke-width="1.9" stroke-linecap="butt" opacity="1"/>
<line x1="96.4" y1="390.7" x2="103.0" y2="402.8" stroke="#929292" stroke-width="2.0" stroke-linecap="round" opacity="1"/>
<line x1="103.0" y1="402.8" x2="98.6" y2="412.7" stroke="#929292" stroke-width="2.0" stroke-linecap="round" opacity="1"/>
<line x1="98.6" y1="412.7" x2="84.3" y2="413.8" stroke="#929292" stroke-width="2.0" stroke-linecap="round" opacity="1"/>
<line x1="84.3" y1="413.8" x2="77.7" y2="403.9" stroke="#929292" stroke-width="2.0" stroke-linecap="round" opacity="1"/>
<line x1="77.7" y1="403.9" x2="83.2" y2="392.9" stroke="#929292" stroke-width="2.0" stroke-linecap="round" opacity="1"/>
<line x1="83.2" y1="392.9" x2="96.4" y2="390.7" stroke="#929292" stroke-width="2.0" stroke-linecap="round" opacity="1"/>
<circle cx="96.4" cy="390.7" r="1.4" fill="#777777" opacity="1"/>
<circle cx="103.0" cy="402.8" r="1.4" fill="#777777" opacity="1"/>
<circle cx="98.6" cy="412.7" r="1.4" fill="#777777" opacity="1"/>
<circle cx="84.3" cy="413.8" r="1.4" fill="#777777" opacity="1"/>
<circle cx="77.7" cy="403.9" r="1.4" fill="#777777" opacity="1"/>
<circle cx="83.2" cy="392.9" r="1.4" fill="#777777" opacity="1"/>
<circle cx="102.0" cy="377.5" r="2.3" fill="#f26a1c" opacity="1"/>
<line x1="190.6" y1="386.0" x2="187.0" y2="397.7" stroke="#929292" stroke-width="1.8" stroke-linecap="round" opacity="1"/>
<line x1="187.0" y1="397.7" x2="194.2" y2="406.1" stroke="#929292" stroke-width="2.0" stroke-linecap="round" opacity="1"/>
<line x1="194.2" y1="406.1" x2="193.0" y2="416.9" stroke="#929292" stroke-width="2.0" stroke-linecap="round" opacity="1"/>
<line x1="193.0" y1="416.9" x2="182.2" y2="420.5" stroke="#929292" stroke-width="2.0" stroke-linecap="round" opacity="1"/>
<line x1="182.2" y1="420.5" x2="172.5" y2="413.3" stroke="#929292" stroke-width="2.0" stroke-linecap="round" opacity="1"/>
<line x1="172.5" y1="413.3" x2="173.7" y2="400.1" stroke="#929292" stroke-width="2.0" stroke-linecap="round" opacity="1"/>
<line x1="173.7" y1="400.1" x2="187.0" y2="397.7" stroke="#929292" stroke-width="2.0" stroke-linecap="round" opacity="1"/>
<circle cx="187.0" cy="397.7" r="1.4" fill="#777777" opacity="1"/>
<circle cx="194.2" cy="406.1" r="1.4" fill="#777777" opacity="1"/>
<circle cx="193.0" cy="416.9" r="1.4" fill="#777777" opacity="1"/>
<circle cx="182.2" cy="420.5" r="1.4" fill="#777777" opacity="1"/>
<circle cx="172.5" cy="413.3" r="1.4" fill="#777777" opacity="1"/>
<circle cx="173.7" cy="400.1" r="1.4" fill="#777777" opacity="1"/>
<line x1="176.1" y1="433.7" x2="183.4" y2="442.2" stroke="#929292" stroke-width="2.0" stroke-linecap="round" opacity="1"/>
<line x1="183.4" y1="442.2" x2="182.2" y2="454.2" stroke="#929292" stroke-width="2.0" stroke-linecap="round" opacity="1"/>
<line x1="182.2" y1="454.2" x2="171.3" y2="457.8" stroke="#929292" stroke-width="2.0" stroke-linecap="round" opacity="1"/>
<line x1="171.3" y1="457.8" x2="161.7" y2="450.6" stroke="#929292" stroke-width="2.0" stroke-linecap="round" opacity="1"/>
<line x1="161.7" y1="450.6" x2="164.1" y2="438.5" stroke="#929292" stroke-width="2.0" stroke-linecap="round" opacity="1"/>
<line x1="164.1" y1="438.5" x2="176.1" y2="433.7" stroke="#929292" stroke-width="2.0" stroke-linecap="round" opacity="1"/>
<circle cx="176.1" cy="433.7" r="1.4" fill="#777777" opacity="1"/>
<circle cx="183.4" cy="442.2" r="1.4" fill="#777777" opacity="1"/>
<circle cx="182.2" cy="454.2" r="1.4" fill="#777777" opacity="1"/>
<circle cx="171.3" cy="457.8" r="1.4" fill="#777777" opacity="1"/>
<circle cx="161.7" cy="450.6" r="1.4" fill="#777777" opacity="1"/>
<circle cx="164.1" cy="438.5" r="1.4" fill="#777777" opacity="1"/>
<line x1="148.5" y1="453.0" x2="146.1" y2="463.8" stroke="#929292" stroke-width="2.0" stroke-linecap="round" opacity="1"/>
<line x1="146.1" y1="463.8" x2="136.5" y2="468.6" stroke="#929292" stroke-width="2.0" stroke-linecap="round" opacity="1"/>
<line x1="136.5" y1="468.6" x2="125.6" y2="461.4" stroke="#929292" stroke-width="2.0" stroke-linecap="round" opacity="1"/>
<line x1="125.6" y1="461.4" x2="126.8" y2="449.4" stroke="#929292" stroke-width="2.0" stroke-linecap="round" opacity="1"/>
<line x1="126.8" y1="449.4" x2="137.7" y2="444.6" stroke="#929292" stroke-width="2.0" stroke-linecap="round" opacity="1"/>
<line x1="137.7" y1="444.6" x2="148.5" y2="453.0" stroke="#929292" stroke-width="2.0" stroke-linecap="round" opacity="1"/>
<circle cx="148.5" cy="453.0" r="1.4" fill="#777777" opacity="1"/>
<circle cx="146.1" cy="463.8" r="1.4" fill="#777777" opacity="1"/>
<circle cx="136.5" cy="468.6" r="1.4" fill="#777777" opacity="1"/>
<circle cx="125.6" cy="461.4" r="1.4" fill="#777777" opacity="1"/>
<circle cx="126.8" cy="449.4" r="1.4" fill="#777777" opacity="1"/>
<circle cx="137.7" cy="444.6" r="1.4" fill="#777777" opacity="1"/>
<line x1="182.2" y1="420.5" x2="176.1" y2="433.7" stroke="#929292" stroke-width="1.8" stroke-linecap="round" opacity="1"/>
<line x1="161.7" y1="450.6" x2="148.5" y2="453.0" stroke="#929292" stroke-width="1.8" stroke-linecap="round" opacity="1"/>
<line x1="125.6" y1="461.4" x2="114.9" y2="461.9" stroke="#929292" stroke-width="1.8" stroke-linecap="round" opacity="1"/>
<circle cx="114.9" cy="461.9" r="1.3" fill="#888" opacity="1"/>
<polyline points="79.6,445.9 72.6,447.8 66.2,459.4" fill="none" stroke="#e8141e" stroke-width="1.2" stroke-dasharray="2 1.4" opacity="1" stroke-linejoin="round"/>
<polyline points="102.7,455.5 109.1,460.6 110.4,472.2 107.8,476.0" fill="none" stroke="#e8141e" stroke-width="1.2" stroke-dasharray="2 1.4" opacity="1" stroke-linejoin="round"/>
<polyline points="93.7,494.6 87.3,493.3 79.6,488.8 70.6,486.3" fill="none" stroke="#e8141e" stroke-width="1.2" stroke-dasharray="2 1.4" opacity="1" stroke-linejoin="round"/>
<polyline points="75.0,450.0 71.0,460.0" fill="none" stroke="#e8141e" stroke-width="1.1" stroke-dasharray="2 1.4" opacity="1" stroke-linejoin="round"/>
<polygon points="79.6,445.9 102.7,455.5 80.3,470.9" fill="#14d03e" opacity="1" stroke="#14d03e" stroke-width="0.6" stroke-linejoin="round"/>
<polygon points="81.5,472.2 107.8,476.0 93.7,494.6" fill="#14d03e" opacity="1" stroke="#14d03e" stroke-width="0.6" stroke-linejoin="round"/>
<polygon points="67.4,460.6 75.8,462.6 79.6,487.6" fill="#12b838" opacity="1" stroke="#12b838" stroke-width="0.6" stroke-linejoin="round"/>
<polygon points="53.3,476.0 67.4,460.6 79.6,487.6" fill="#088a22" opacity="1" stroke="#088a22" stroke-width="0.6" stroke-linejoin="round"/>
<circle cx="80.5" cy="471.5" r="1.2" fill="#e8141e" opacity="1"/>
<line x1="53.3" y1="476.0" x2="48.2" y2="476.7" stroke="#888" stroke-width="1.5" stroke-linecap="round" opacity="1"/>
<line x1="110.4" y1="463.0" x2="114.9" y2="461.9" stroke="#aaa" stroke-width="1.4" stroke-linecap="round" opacity="1"/>
<text transform="matrix(1.0105 0 0 1.0105 272.60 63.90)" font-size="24" fill="#1a1a1a" stroke="#1a1a1a" stroke-width="0.40">without</text>
<text transform="matrix(1.0078 0 0 1.0078 283.28 93.20)" font-size="24" fill="#1a1a1a" stroke="#1a1a1a" stroke-width="0.40">MOF</text>
<text transform="matrix(1.0286 0 0 1.0286 564.97 34.40)" font-size="24" fill="#1a1a1a" stroke="#1a1a1a" stroke-width="0.39">standard</text>
<text transform="matrix(1.0256 0 0 1.0256 550.00 61.10)" font-size="24" font-style="italic" fill="#1a1a1a" stroke="#1a1a1a" stroke-width="0.39">nucleophilic</text>
<text transform="matrix(1.0128 0 0 1.0128 563.99 92.00)" font-size="24" fill="#1a1a1a" stroke="#1a1a1a" stroke-width="0.39">reactivity</text>
<text transform="matrix(1.0193 0 0 1.0193 726.66 159.80)" font-size="24" fill="#1a1a1a" stroke="#1a1a1a" stroke-width="0.39">Morita-Baylis-Hillman</text>
<text transform="matrix(1.0325 0 0 1.0325 798.47 188.40)" font-size="24" fill="#1a1a1a" stroke="#1a1a1a" stroke-width="0.39">reaction</text>
<text transform="matrix(1.0246 0 0 0.9785 88.78 123.80)" font-size="24" fill="#1a1a1a" stroke="#1a1a1a" stroke-width="0.39">phosphonium</text>
<text transform="matrix(1.0121 0 0 0.9666 110.99 153.00)" font-size="24" fill="#1a1a1a" stroke="#1a1a1a" stroke-width="0.40">zwitterion</text>
<text transform="matrix(1.0762 0 0 1.0762 10.56 131.10)" font-size="21" fill="#1a1a1a" stroke="#1a1a1a" stroke-width="0.19">Ph</text>
<text transform="matrix(1.0667 0 0 1.0667 37.30 136.50)" font-size="15" fill="#1a1a1a" stroke="#1a1a1a" stroke-width="0.19">3</text>
<text transform="matrix(1.0571 0 0 1.0571 46.42 131.10)" font-size="21" fill="#1a1a1a" stroke="#1a1a1a" stroke-width="0.19">P</text>
<text transform="matrix(1.0273 0 0 1.0273 99.17 37.30)" font-size="22" fill="#1a1a1a" stroke="#1a1a1a" stroke-width="0.19">O</text>
<text transform="matrix(1.0396 0 0 1.0396 39.80 229.30)" font-size="31" fill="#13b04b" stroke="#13b04b" stroke-width="0.38">with</text>
<text transform="matrix(1.0394 0 0 1.0394 32.32 267.20)" font-size="31" fill="#13b04b" stroke="#13b04b" stroke-width="0.38">MOF</text>
<text transform="matrix(1.0760 0 0 1.0760 345.15 266.80)" font-size="38" font-weight="bold" fill="#13b04b" stroke="#13b04b" stroke-width="0.37">unique</text>
<text transform="matrix(1.0626 0 0 1.0626 294.94 314.40)" font-size="38" font-weight="bold" font-style="italic" fill="#13b04b" stroke="#13b04b" stroke-width="0.38">electrophilic</text>
<text transform="matrix(1.0485 0 0 1.0380 323.40 364.60)" font-size="38" font-weight="bold" fill="#13b04b" stroke="#13b04b" stroke-width="0.38">reactivity</text>
<text transform="matrix(1.0180 0 0 1.0180 552.50 481.80)" font-size="32" fill="#13b04b" stroke="#13b04b" stroke-width="0.39">Aldol–Tishchenko reaction</text>
<text transform="matrix(1.0941 0 0 1.0941 773.94 82.50)" font-size="17" fill="#1a1a1a" stroke="#1a1a1a" stroke-width="0.18">R</text>
<text transform="matrix(1.0941 0 0 1.0941 820.52 56.10)" font-size="17" fill="#1a1a1a" stroke="#1a1a1a" stroke-width="0.18">OH</text>
<text transform="matrix(1.0333 0 0 1.0333 867.17 56.50)" font-size="18" fill="#1a1a1a" stroke="#1a1a1a" stroke-width="0.19">O</text>
<text transform="matrix(1.0316 0 0 1.0316 554.18 162.90)" font-size="19" fill="#1a1a1a" stroke="#1a1a1a" stroke-width="0.19">R</text>
<text transform="matrix(1.0316 0 0 1.0316 602.56 134.80)" font-size="19" fill="#1a1a1a" stroke="#1a1a1a" stroke-width="0.19">O</text>
<text transform="matrix(1.0316 0 0 1.0316 628.84 176.50)" font-size="19" fill="#1a1a1a" stroke="#1a1a1a" stroke-width="0.19">H</text>
<text transform="matrix(1.0727 0 0 1.0727 354.33 458.60)" font-size="22" fill="#1a1a1a" stroke="#1a1a1a" stroke-width="0.19">R</text>
<text transform="matrix(1.0727 0 0 1.0727 412.93 426.10)" font-size="22" fill="#1a1a1a" stroke="#1a1a1a" stroke-width="0.19">O</text>
<text transform="matrix(1.0727 0 0 1.0727 443.22 475.40)" font-size="22" fill="#1a1a1a" stroke="#1a1a1a" stroke-width="0.19">H</text>
<text transform="matrix(1.0600 0 0 1.0600 570.74 374.00)" font-size="30" fill="#1a1a1a" stroke="#1a1a1a" stroke-width="0.19">R</text>
<text transform="matrix(1.0600 0 0 1.0600 650.43 327.80)" font-size="30" fill="#1a1a1a" stroke="#1a1a1a" stroke-width="0.19">OH</text>
<text transform="matrix(1.0600 0 0 1.0600 690.94 442.20)" font-size="30" fill="#1a1a1a" stroke="#1a1a1a" stroke-width="0.19">R</text>
<text transform="matrix(1.0600 0 0 1.0600 770.81 398.10)" font-size="30" fill="#1a1a1a" stroke="#1a1a1a" stroke-width="0.19">O</text>
<text transform="matrix(1.0600 0 0 1.0600 809.41 329.10)" font-size="30" fill="#1a1a1a" stroke="#1a1a1a" stroke-width="0.19">O</text>
<text transform="matrix(1.0600 0 0 1.0600 890.44 373.30)" font-size="30" fill="#1a1a1a" stroke="#1a1a1a" stroke-width="0.19">R</text>
</svg></body></html>
